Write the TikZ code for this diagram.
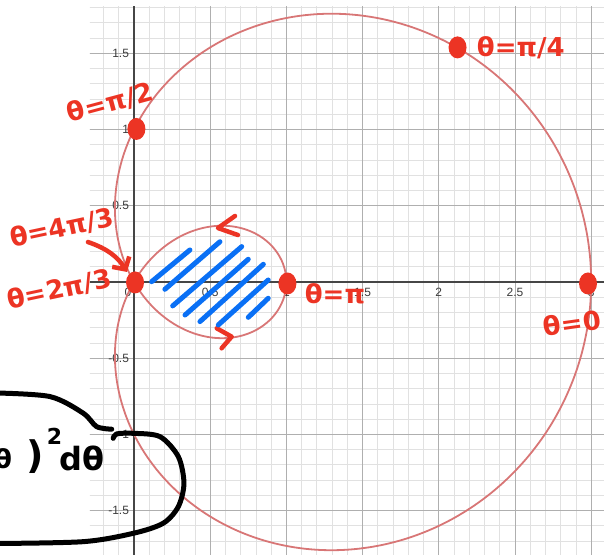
\documentclass[tikz,border=0pt]{standalone}
\usepackage{fontspec}
\setmainfont{Liberation Sans}
\newfontfamily\handfont{DejaVu Sans}
\usetikzlibrary{arrows.meta,positioning,shapes.geometric}

\definecolor{curvered}{RGB}{216,118,118}
\definecolor{penred}{RGB}{236,52,36}
\definecolor{penblue}{RGB}{10,112,245}
\definecolor{gridminor}{RGB}{225,225,225}
\definecolor{gridmajor}{RGB}{175,175,175}
\definecolor{axisgray}{RGB}{70,70,70}
\definecolor{ticktext}{RGB}{60,60,60}

\begin{document}
\begin{tikzpicture}[
  x=152.4pt, y=152.4pt,
  minor/.style={gridminor, line width=0.8pt},
  major/.style={gridmajor, line width=0.9pt},
  axis/.style={axisgray, line width=1.6pt},
  tick/.style={font=\fontsize{12}{12}\selectfont, text=ticktext, inner sep=1pt},
  curve/.style={curvered, line width=1.8pt},
  dot/.style={ellipse, fill=penred, inner sep=0pt, minimum width=18pt, minimum height=22pt},
  hand/.style={text=penred, inner sep=0pt, font=\handfont\bfseries\fontsize{26}{28}\selectfont},
  pen/.style={penred, line width=4.5pt, line cap=round, line join=round},
  hatch/.style={penblue, line width=5pt, line cap=round},
  ink/.style={black, line width=5pt, line cap=round, line join=round},
  inktext/.style={inner sep=0pt, font=\handfont\bfseries\fontsize{26}{28}\selectfont}
]
\useasboundingbox (-0.879,-1.791) rectangle (3.084,1.850);
\clip (-0.879,-1.791) rectangle (3.084,1.850);
% graph paper
\begin{scope}
  \clip (-0.29,-1.80) rectangle (3.09,1.805);
  \draw[minor] (-0.3,-1.9) grid[step=0.1] (3.1,1.9);
  \draw[major] (-0.5,-2) grid[step=0.5] (3.5,2);
  \draw[axis] (-0.3,0) -- (3.1,0);
  \draw[axis] (0,-1.9) -- (0,1.9);
\end{scope}
\node[tick, anchor=north east] (t0) at (-0.01,-0.03) {0};
\foreach \x [count=\i] in {0.5,1,1.5,2,2.5,3}
  \node[tick, anchor=north] (tx\i) at (\x,-0.035) {\x};
\foreach \y [count=\i] in {-1.5,-1,-0.5,0.5,1,1.5}
  \node[tick, anchor=east] (ty\i) at (-0.025,\y) {\y};
% limacon r = 1 + 2 cos(theta)
\draw[curve] plot[domain=0:360, samples=240, smooth] (\x:{1+2*cos(\x)});
% marked points
\node[dot] (dZero) at (2.979,-0.01) {};
\node[dot] (dQuarter) at (2.123,1.539) {};
\node[dot] (dHalf) at (0.016,1.004) {};
\node[dot] (dOrigin) at (0.007,-0.003) {};
\node[dot] (dPi) at (1.007,-0.01) {};
\node[hand, rotate=15] (lHalf) at (-0.157,1.175) {θ=π/2};
\node[hand, right=10pt of dQuarter] (lQuarter) {θ=π/4};
\node[hand, rotate=12] (lFourThirds) at (-0.472,0.354) {θ=4π/3};
\node[hand, rotate=12] (lTwoThirds) at (-0.49,-0.05) {θ=2π/3};
\node[hand, right=8pt of dPi, yshift=-10pt] (lPi) {θ=π};
\node[hand, rotate=8] (lZero) at (2.874,-0.269) {θ=0};
\coordinate (aStart) at (-0.302,0.262);
\draw[pen, -{Straight Barb[length=9pt,width=20pt]}, shorten >=3pt] (aStart) to[bend left=20] (dOrigin.north west);
% direction marks on the inner loop
\draw[pen] (0.663,0.433) -- (0.551,0.354) -- (0.682,0.308);
\draw[pen] (0.543,-0.304) -- (0.641,-0.359) -- (0.575,-0.435);
% shading of the inner loop
\foreach \a/\b/\c/\d in {0.116/0.002/0.367/0.210, 0.203/-0.048/0.564/0.264,
    0.254/-0.157/0.707/0.232, 0.335/-0.217/0.750/0.149, 0.433/-0.260/0.849/0.116,
    0.553/-0.282/0.881/0.013, 0.750/-0.232/0.881/-0.107}
  \draw[hatch] (\a,\b) -- (\c,\d);
% integral bubble
\draw[ink] plot[smooth] coordinates {(-0.92,-0.728) (-0.551,-0.752) (-0.333,-0.861) (-0.245,-0.949) (-0.146,-0.966)};
\draw[ink] plot[smooth] coordinates {(-0.136,-1.026) (-0.114,-0.997) (-0.004,-0.993) (0.171,-1.015) (0.291,-1.146) (0.328,-1.321) (0.291,-1.474) (0.192,-1.583) (-0.004,-1.649) (-0.333,-1.704) (-0.92,-1.716)};
\node[inktext] (bTheta) at (-0.859,-1.161) {θ};
\node[inktext, font=\handfont\bfseries\fontsize{38}{40}\selectfont] (bParen) at (-0.650,-1.148) {)};
\node[inktext, font=\handfont\bfseries\fontsize{22}{24}\selectfont] (bSquare) at (-0.522,-1.014) {2};
\node[inktext, font=\handfont\bfseries\fontsize{32}{34}\selectfont] (bDtheta) at (-0.341,-1.161) {dθ};
\end{tikzpicture}
\end{document}
